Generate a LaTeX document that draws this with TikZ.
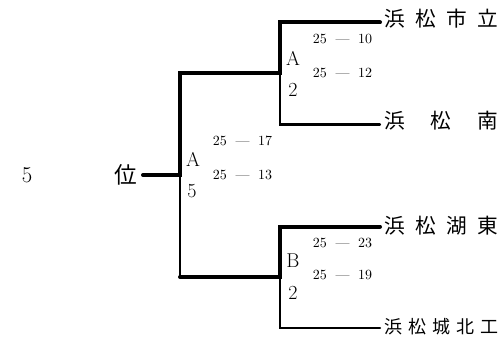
\documentclass[tikz,border=0pt]{standalone}
\usepackage{fontspec}
\usepackage{tikz}
\usepackage{tkz-euclide}
\newfontfamily\jpfont{Noto Sans CJK JP}
\newcommand{\score}[2]{#1\hspace{6.5pt}---\hspace{6.5pt}#2}
\newcommand{\team}[1]{\makebox[85.5pt][s]{#1}}

\begin{document}
\begin{tikzpicture}[x=0.75pt,y=0.75pt,
                winline/.style={line width=3pt},
                loseline/.style={line width=1.6pt},
                teamname/.style={anchor=west,inner sep=0pt,font=\jpfont\fontsize{15.5}{17}\selectfont},
                ptsbox/.style={inner sep=0pt,font=\fontsize{10.5}{12}\selectfont},
                clsmark/.style={inner sep=0pt,font=\fontsize{15}{17}\selectfont}]
                \useasboundingbox (0,0) rectangle (502,350);

                \tkzDefPoint(143,175){R}
                \tkzDefPoint(180,175){M}
                \tkzDefPoint(180,276.5){MT}
                \tkzDefPoint(180,73){MB}
                \tkzDefPoint(280,276.5){AJ}
                \tkzDefPoint(280,327.5){AT}
                \tkzDefPoint(380,327.5){AE}
                \tkzDefPoint(280,225.5){AB}
                \tkzDefPoint(380,225.5){AF}
                \tkzDefPoint(280,73){BJ}
                \tkzDefPoint(280,123.5){BT}
                \tkzDefPoint(380,123.5){BE}
                \tkzDefPoint(280,22){BB}
                \tkzDefPoint(380,22){BF}

                \tkzDrawSegment[loseline](M,MB)
                \tkzDrawPolySeg[loseline](AJ,AB,AF)
                \tkzDrawPolySeg[loseline](BJ,BB,BF)
                \tkzDrawPolySeg[winline](R,M,MT,AJ,AT,AE)
                \tkzDrawPolySeg[winline](MB,BJ,BT,BE)

                \node[teamname] (T1) at (384,331) {\team{浜\hfill 松\hfill 市\hfill 立}};
                \node[teamname] (T2) at (384,229) {\team{浜\hfill 松\hfill 南}};
                \node[teamname] (T3) at (384,124) {\team{浜\hfill 松\hfill 湖\hfill 東}};
                \node[teamname,font=\jpfont\fontsize{13.5}{15}\selectfont] (T4) at (384,23.5) {\team{浜\hfill 松\hfill 城\hfill 北\hfill 工}};

                \node[inner sep=0pt,font=\fontsize{17}{19}\selectfont] (rank) at (27,175) {5};
                \node[inner sep=0pt,font=\jpfont\fontsize{17}{19}\selectfont] (rankw) at (126,175.5) {位};

                \node[clsmark] (cM) at (193,191) {A};
                \node[clsmark] (sM) at (192,159) {5};
                \node[ptsbox] (p1) at (242.5,209) {\score{25}{17}};
                \node[ptsbox] (p2) at (242.5,175) {\score{25}{13}};

                \node[clsmark] (cA) at (293,291.5) {A};
                \node[clsmark] (sA) at (293,260) {2};
                \node[ptsbox] (p3) at (342.5,311) {\score{25}{10}};
                \node[ptsbox] (p4) at (342.5,277.5) {\score{25}{12}};

                \node[clsmark] (cB) at (293,89) {B};
                \node[clsmark] (sB) at (293,57.5) {2};
                \node[ptsbox] (p5) at (342.5,107.5) {\score{25}{23}};
                \node[ptsbox] (p6) at (342.5,75) {\score{25}{19}};
            \end{tikzpicture}
\end{document}
